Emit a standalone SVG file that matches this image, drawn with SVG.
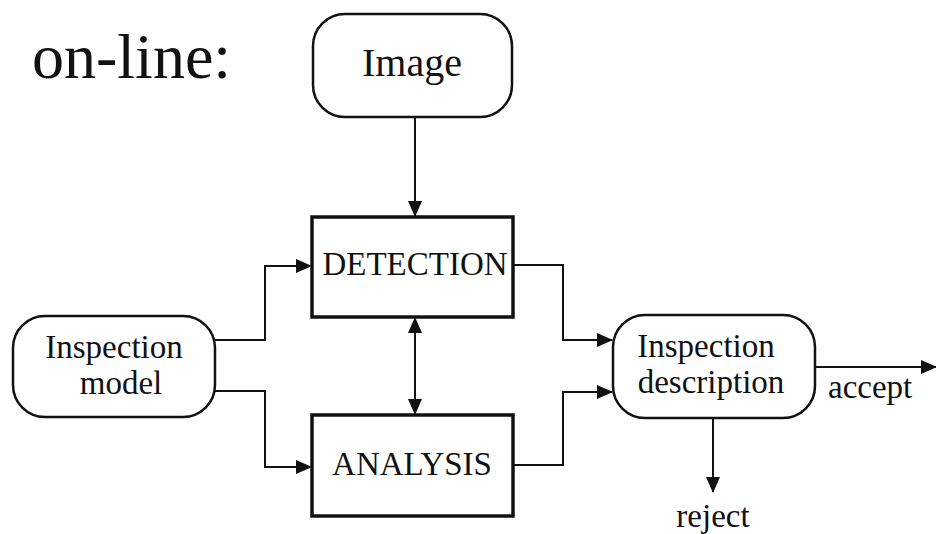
<svg xmlns="http://www.w3.org/2000/svg" width="936" height="534" viewBox="0 0 936 534" font-family="Liberation Serif">
  <style>
    text { fill: #111; }
    .lbl { font-size: 33px; text-anchor: middle; }
    .term { fill: #fff; stroke: #111; stroke-width: 2.5; }
    .proc { fill: #fff; stroke: #111; stroke-width: 3.5; }
    .wire { fill: none; stroke: #111; stroke-width: 2; marker-end: url(#head); }
  </style>
  <defs>
    <marker id="head" markerUnits="userSpaceOnUse" markerWidth="16" markerHeight="14" refX="15" refY="7" orient="auto">
      <path d="M0,0 L16,7 L0,14 Z" fill="#111"/>
    </marker>
    <marker id="tail" markerUnits="userSpaceOnUse" markerWidth="16" markerHeight="14" refX="1" refY="7" orient="auto">
      <path d="M16,0 L0,7 L16,14 Z" fill="#111"/>
    </marker>
  </defs>
  <rect width="936" height="534" fill="#fff"/>

  <text x="32" y="78" font-family="Liberation Serif" font-size="64">on-line:</text>

  <g id="connectors">
    <path class="wire" d="M415,117 V216"/>
    <path class="wire" d="M215,340 H265 V266 H311"/>
    <path class="wire" d="M215,391 H265 V467 H311"/>
    <path class="wire" style="marker-start:url(#tail)" d="M415,318 V414"/>
    <path class="wire" d="M513,265 H563 V340 H612"/>
    <path class="wire" d="M513,465 H563 V392 H612"/>
    <path class="wire" d="M815,367 H936"/>
    <path class="wire" d="M713,418 V492"/>
  </g>

  <g id="image" font-family="Liberation Serif">
    <rect class="term" x="313" y="14" width="199" height="103" rx="32"/>
    <text class="lbl" x="412" y="76" style="font-size:40px">Image</text>
  </g>

  <g id="detection" font-family="Liberation Serif">
    <rect class="proc" x="312" y="217" width="201" height="100"/>
    <text class="lbl" x="415" y="275">DETECTION</text>
  </g>

  <g id="analysis" font-family="Liberation Serif">
    <rect class="proc" x="312" y="415" width="201" height="101"/>
    <text class="lbl" x="412" y="475">ANALYSIS</text>
  </g>

  <g id="inspection-model" font-family="Liberation Serif">
    <rect class="term" x="13" y="316" width="202" height="101" rx="32"/>
    <text class="lbl" x="114" y="358">Inspection</text>
    <text class="lbl" x="121" y="394">model</text>
  </g>

  <g id="inspection-description" font-family="Liberation Serif">
    <rect class="term" x="613" y="315" width="202" height="103" rx="32"/>
    <text class="lbl" x="706" y="357">Inspection</text>
    <text class="lbl" x="711" y="393">description</text>
  </g>

  <g id="outcomes" font-family="Liberation Serif">
    <text x="828" y="398" font-size="33">accept</text>
    <text class="lbl" x="713" y="527">reject</text>
  </g>
</svg>
